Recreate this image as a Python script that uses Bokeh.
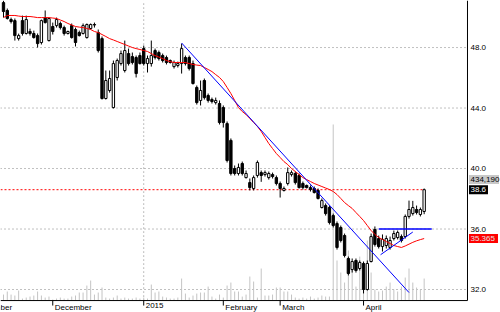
from bokeh.plotting import figure
from bokeh.models import ColumnDataSource, Range1d
from bokeh.core.properties import value
from bokeh.embed import file_html
from bokeh.resources import INLINE

# ---------------- data ----------------
opens = [50.97, 50.45, 49.85, 49.78, 48.59, 49.78, 48.93, 49.06, 48.93, 48.79,
         48.33, 49.98, 48.46, 49.39, 49.45, 49.59, 49.32, 48.93, 49.45, 49.19,
         48.99, 48.93, 48.66, 49.26, 49.52, 48.99, 48.59, 44.63, 45.16, 44.03,
         46.02, 46.94, 46.48, 47.60, 47.40, 47.34, 47.47, 47.93, 46.94, 46.94,
         47.80, 47.67, 47.47, 47.34, 47.14, 46.74, 46.81, 46.94, 47.34, 47.34,
         46.94, 45.36, 44.50, 45.82, 44.83, 44.56, 44.36, 44.30, 44.03, 42.97,
         41.86, 40.00, 39.67, 40.33, 39.40, 39.07, 38.68, 39.54, 39.73, 39.60,
         39.40, 39.60, 39.40, 39.01, 38.55, 39.01, 39.60, 39.67, 39.54, 39.01,
         38.88, 38.74, 38.68, 38.55, 37.42, 37.55, 37.42, 36.89, 36.36, 36.10,
         35.57, 34.05, 33.32, 33.92, 33.39, 33.72, 32.00, 33.85, 35.97, 35.37,
         34.84, 34.91, 34.78, 35.37, 35.44, 35.50, 35.50, 36.83, 37.02, 37.29,
         36.96, 37.16]
highs = [51.10, 50.58, 49.98, 49.92, 48.92, 50.11, 50.11, 49.25, 49.12, 48.93,
         49.85, 50.45, 49.98, 49.65, 49.98, 49.72, 49.45, 49.12, 49.59, 49.32,
         49.12, 49.59, 49.59, 49.59, 49.65, 49.19, 48.73, 46.48, 46.48, 47.14,
         47.27, 47.80, 48.46, 47.93, 47.67, 47.47, 47.67, 48.13, 47.47, 48.46,
         47.93, 47.80, 47.60, 47.47, 47.21, 47.14, 47.07, 48.26, 47.47, 47.47,
         47.14, 45.49, 45.82, 45.95, 44.96, 44.69, 44.69, 44.50, 44.17, 43.11,
         41.99, 40.20, 40.33, 40.46, 39.87, 39.34, 39.54, 40.53, 39.87, 39.87,
         39.80, 39.73, 39.54, 39.14, 38.81, 40.07, 39.87, 39.80, 39.67, 39.14,
         38.94, 38.88, 38.81, 38.68, 38.02, 37.69, 37.55, 37.02, 36.50, 36.23,
         35.70, 34.18, 34.05, 34.05, 33.92, 33.85, 33.92, 35.70, 36.17, 35.57,
         35.64, 35.57, 35.50, 35.90, 35.90, 35.64, 36.96, 37.88, 37.86, 37.55,
         37.42, 38.68]
lows = [49.98, 49.85, 49.59, 48.46, 48.46, 48.79, 48.86, 48.79, 48.59, 48.00,
        48.20, 49.59, 48.40, 48.86, 49.32, 49.19, 48.79, 48.86, 48.59, 48.07,
        48.73, 48.86, 48.59, 49.19, 49.32, 47.67, 44.56, 44.56, 45.02, 43.97,
        45.82, 46.81, 46.35, 46.81, 46.88, 46.02, 46.88, 46.81, 46.35, 46.74,
        47.21, 47.14, 47.01, 46.88, 46.94, 46.61, 46.68, 46.28, 46.81, 46.48,
        45.55, 44.23, 44.17, 44.56, 44.36, 44.30, 44.23, 42.91, 42.71, 40.40,
        39.54, 39.54, 39.54, 39.54, 39.34, 38.55, 38.55, 39.40, 39.12, 39.47,
        39.27, 39.34, 38.88, 38.08, 38.48, 38.88, 39.47, 38.94, 38.68, 38.61,
        38.68, 38.48, 38.35, 37.95, 37.36, 36.89, 36.30, 36.10, 34.64, 35.11,
        34.12, 32.93, 33.12, 33.12, 33.26, 31.74, 31.93, 33.79, 34.84, 34.71,
        34.51, 34.71, 34.64, 35.24, 35.31, 35.11, 35.37, 36.69, 36.89, 36.96,
        36.83, 36.98]
closes = [50.38, 49.92, 49.72, 48.79, 48.79, 48.93, 49.85, 48.93, 48.66, 48.26,
          49.78, 49.65, 49.92, 49.06, 49.85, 49.32, 48.93, 49.06, 48.66, 48.33,
          48.79, 49.45, 49.52, 49.52, 49.49, 47.80, 44.63, 45.82, 45.95, 46.94,
          47.14, 47.60, 47.80, 46.94, 47.01, 46.28, 46.94, 46.94, 47.27, 47.47,
          47.34, 47.27, 47.14, 47.01, 47.01, 47.01, 46.94, 47.93, 46.94, 46.61,
          45.62, 44.36, 45.16, 44.69, 44.50, 44.43, 44.50, 43.04, 43.04, 40.53,
          39.67, 39.67, 40.07, 39.67, 39.67, 38.74, 39.40, 40.40, 39.54, 39.73,
          39.67, 39.47, 39.01, 38.68, 38.68, 39.73, 39.73, 39.07, 38.74, 38.74,
          38.74, 38.61, 38.41, 38.02, 37.88, 37.02, 36.43, 36.23, 34.78, 35.24,
          34.25, 33.06, 33.85, 33.26, 33.79, 32.00, 33.72, 35.50, 34.98, 34.84,
          35.31, 35.37, 35.24, 35.70, 35.77, 35.24, 36.83, 37.29, 37.42, 37.09,
          37.29, 38.60]
moving_avg = [49.98, 50.12, 50.12, 50.12, 50.08, 50.05, 50.05, 50.05, 50.02, 49.98,
              49.98, 49.98, 49.98, 49.95, 49.92, 49.82, 49.72, 49.59, 49.49, 49.39,
              49.35, 49.32, 49.26, 49.19, 49.06, 48.99, 48.86, 48.73, 48.59, 48.50,
              48.40, 48.30, 48.20, 48.10, 48.00, 47.93, 47.87, 47.80, 47.74, 47.60,
              47.47, 47.37, 47.27, 47.14, 47.07, 47.01, 47.01, 47.01, 47.01, 46.94,
              46.88, 46.84, 46.81, 46.68, 46.55, 46.41, 46.21, 46.02, 45.75, 45.36,
              44.96, 44.50, 44.03, 43.77, 43.57, 43.31, 43.04, 42.78, 42.45, 42.05,
              41.65, 41.32, 40.99, 40.73, 40.46, 40.26, 40.00, 39.80, 39.60, 39.40,
              39.27, 39.14, 39.01, 38.91, 38.81, 38.71, 38.61, 38.48, 38.28, 38.02,
              37.75, 37.55, 37.36, 37.09, 36.83, 36.56, 36.23, 35.90, 35.64, 35.44,
              35.31, 35.17, 35.04, 34.91, 34.84, 34.78, 34.88, 35.00, 35.12, 35.22,
              35.30, 35.37]
volume_k = [118, 178, 118, 99, 197, 39, 59, 79, 99, 178,
            99, 59, 79, 20, 39, 59, 39, 39, 79, 99,
            158, 158, 296, 395, 118, 158, 257, 59, 39, 59,
            99, 39, 59, 39, 39, 59, 39, 59, 39, 316,
            158, 178, 79, 59, 39, 39, 59, 434, 138, 59,
            99, 138, 158, 158, 276, 79, 39, 118, 59, 296,
            355, 178, 178, 79, 118, 474, 375, 59, 632, 99,
            99, 118, 257, 257, 178, 178, 118, 59, 39, 59,
            39, 79, 39, 59, 99, 79, 79, 3474, 790, 553,
            355, 987, 750, 276, 868, 612, 1184, 553, 217, 178,
            197, 276, 355, 217, 178, 276, 454, 632, 355, 257,
            217, 434]

month_names = ["November", "December", "2015", "February", "March", "April"]
month_ticks = [-8, 13, 37, 58, 73, 95]
year_tick = 37
price_ticks = [32, 36, 40, 44, 48]

trend_down_x = [47, 107]
trend_down_y = [48.3, 31.8]
resist_x = [99, 113]
resist_y = [36.0, 36.0]
trend_up_x = [99.5, 108]
trend_up_y = [34.3, 35.8]
last_close = 38.6
ma_last = 35.365
last_volume_text = "434,190"
last_volume_level = 39.27

# ---------------- layout of the drawing area ----------------
W, H = 500, 312
X0, X1 = -0.79, 131.14          # whole canvas in candle-index units
Y0, Y1 = 30.48, 51.11           # whole canvas in price units
AXIS_X = 122.43                 # right price axis
AXIS_Y = 31.27                  # bottom time axis
px_x = W / (X1 - X0)
px_y = H / (Y1 - Y0)
VOL_PER_PX = 19.73
FONT = value("Liberation Sans")

idx = list(range(len(closes)))
up = [c >= o for o, c in zip(opens, closes)]
src = ColumnDataSource(dict(
    x=idx, o=opens, h=highs, l=lows, c=closes, vol=volume_k,
    top=[max(o, c) for o, c in zip(opens, closes)],
    bot=[min(o, c) for o, c in zip(opens, closes)],
    fill=["white" if u else "black" for u in up],
))

p = figure(width=W, height=H, output_backend="svg", toolbar_location=None,
           x_range=Range1d(X0, X1), y_range=Range1d(Y0, Y1),
           x_axis_location=None, y_axis_location=None,
           min_border_left=0, min_border_right=0, min_border_top=0, min_border_bottom=0)
p.outline_line_color = None
p.xgrid.visible = False
p.ygrid.visible = False
p.background_fill_color = "white"
p.border_fill_color = "white"

vol_bottom = -(AXIS_Y - Y0) * px_y * VOL_PER_PX
p.extra_y_ranges = {"vol": Range1d(vol_bottom, vol_bottom + H * VOL_PER_PX)}

# grid (dotted)
p.segment(x0=[X0] * len(price_ticks), x1=[AXIS_X] * len(price_ticks),
          y0=price_ticks, y1=price_ticks, line_color="#808080", line_dash="1 3",
          line_width=1)
p.segment(x0=[year_tick], x1=[year_tick], y0=[AXIS_Y], y1=[Y1],
          line_color="#808080", line_dash="1 3", line_width=1)

# volume
p.segment(x0="x", y0=0, x1="x", y1="vol", source=src, y_range_name="vol",
          line_color="#c4c4c4", line_width=1)

# last-close dotted line
p.line([X0, idx[-1]], [last_close, last_close], line_color="red",
       line_dash="2 2", line_width=1)

# candles
p.segment(x0="x", y0="l", x1="x", y1="h", source=src, line_color="black", line_width=1)
p.vbar(x="x", top="top", bottom="bot", width=0.62, source=src,
       fill_color="fill", line_color="black", line_width=1)

# moving average
p.line(idx, moving_avg, line_color="red", line_width=1)

# trend lines
p.line(trend_down_x, trend_down_y, line_color="blue", line_width=1)
p.line(resist_x, resist_y, line_color="blue", line_width=1.5)
p.line(trend_up_x, trend_up_y, line_color="blue", line_width=1)

# axes lines
p.segment(x0=[AXIS_X], x1=[AXIS_X], y0=[AXIS_Y], y1=[Y1], line_color="black", line_width=1)
p.segment(x0=[X0], x1=[AXIS_X], y0=[AXIS_Y], y1=[AXIS_Y], line_color="black", line_width=1)

# time ticks + labels
tick_len = 5 / px_y
p.segment(x0=month_ticks, x1=month_ticks, y0=[AXIS_Y] * len(month_ticks),
          y1=[AXIS_Y - tick_len] * len(month_ticks), line_color="black", line_width=1)
p.text(x=month_ticks, y=[AXIS_Y] * len(month_ticks), text=month_names,
       x_offset=2, y_offset=2, text_font=FONT, text_font_size="8px",
       text_color="black", text_align="left", text_baseline="top")

# price labels
p.text(x=[AXIS_X] * len(price_ticks), y=price_ticks,
       text=[f"{t:.1f}" for t in price_ticks], x_offset=3,
       text_font=FONT, text_font_size="8px", text_color="black",
       text_align="left", text_baseline="middle")

# value tags on the price axis
tags = [(last_volume_level, last_volume_text, "#c8c8c8", "black", 30),
        (last_close, f"{last_close:.1f}", "black", "white", 19),
        (ma_last, f"{ma_last:.3f}", "red", "#e6e6e6", 29)]
for y, txt, bg, fg, w in tags:
    cx = AXIS_X + (1.5 + w / 2) / px_x
    p.rect(x=[cx], y=[y], width=w, height=9, width_units="screen",
           height_units="screen", fill_color=bg, line_color=None)
    p.text(x=[AXIS_X], y=[y], text=[txt], x_offset=3, text_font=FONT,
           text_font_size="8px", text_color=fg, text_align="left",
           text_baseline="middle")

open("out.html", "w").write(file_html(p, INLINE))
